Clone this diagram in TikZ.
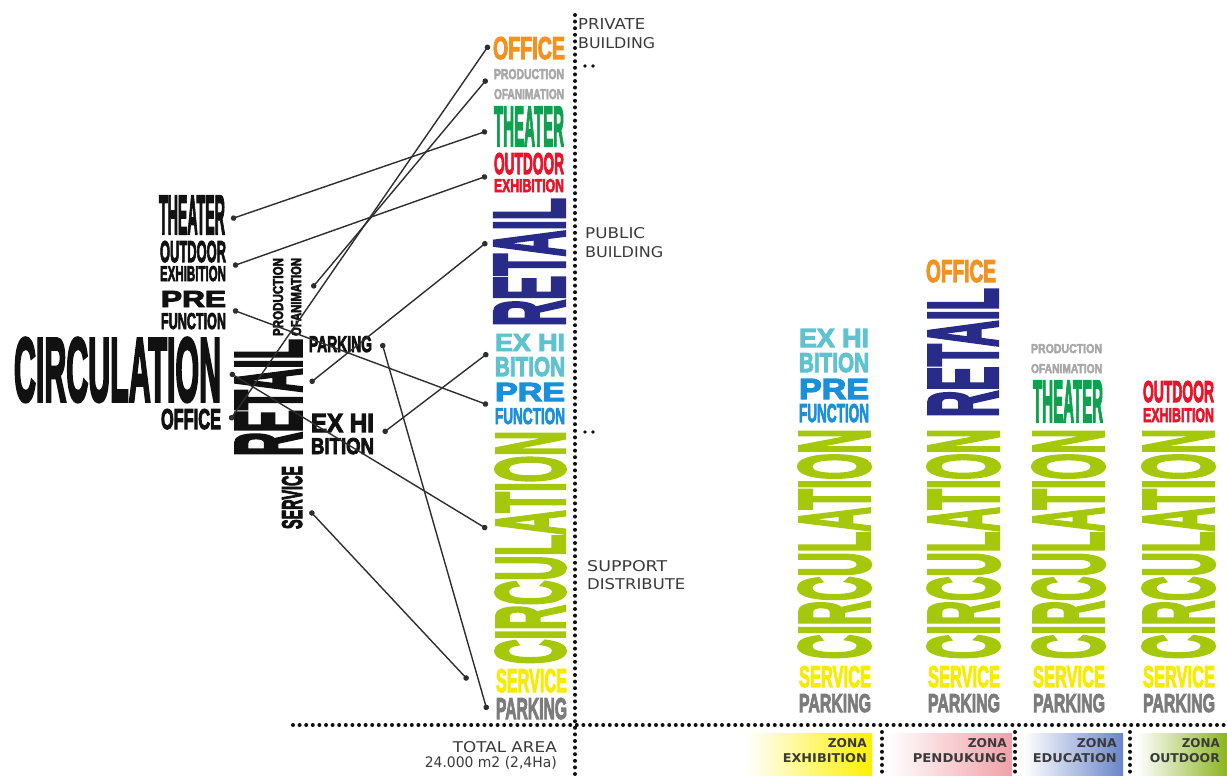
\documentclass[tikz,border=0pt]{standalone}
\usepackage{fontspec}
\setmainfont{Liberation Sans}
\newfontfamily\labfont{DejaVu Sans}
\newfontfamily\heavyfont[FakeBold=4]{Liberation Sans Bold}
\usetikzlibrary{arrows.meta}
\definecolor{cOrange}{HTML}{F39220}
\definecolor{cLgray}{HTML}{A8A8A8}
\definecolor{cGreen}{HTML}{10A050}
\definecolor{cRed}{HTML}{E8142A}
\definecolor{cNavy}{HTML}{282C88}
\definecolor{cCyan}{HTML}{5EC3CF}
\definecolor{cBlue}{HTML}{1A8FDA}
\definecolor{cLime}{HTML}{A6C80A}
\definecolor{cYellow}{HTML}{F7EC00}
\definecolor{cDgray}{HTML}{7C7C7C}
\definecolor{cBlack}{HTML}{111111}
\definecolor{cLab}{HTML}{3A3A3A}
\definecolor{cLine}{HTML}{2E2E2E}
\definecolor{zYellow}{HTML}{FFF000}
\definecolor{zPink}{HTML}{F0A0A8}
\definecolor{zBlue}{HTML}{6A86C8}
\definecolor{zGreen}{HTML}{8CB41E}
\newcommand{\hword}[3]{\resizebox{#1pt}{#2pt}{\heavyfont #3}}
\newcommand{\vword}[3]{\rotatebox{90}{\resizebox{#2pt}{#1pt}{\heavyfont #3}}}
\newcommand{\lword}[3]{\resizebox{#1pt}{#2pt}{\labfont #3}}
\newcommand{\zword}[3]{\resizebox{#1pt}{#2pt}{\labfont\bfseries #3}}
\begin{document}
\begin{tikzpicture}[x=1pt,y=-1pt,
  word/.style={anchor=north west, inner sep=0pt, outer sep=0pt},
  rword/.style={anchor=north east, inner sep=0pt, outer sep=0pt},
  lab/.style={anchor=north west, inner sep=0pt, text=cLab},
  rlab/.style={anchor=north east, inner sep=0pt, text=cLab},
  link/.style={draw=cLine, line width=1.4pt, {Circle[length=5.5pt]}-{Circle[length=5.5pt]}},
  dotline/.style={draw=cBlack, line width=4pt, line cap=round, dash pattern=on 0pt off 6.6pt},
  minidot/.style={fill=cBlack}]
\useasboundingbox (0,0) rectangle (1227,776);

% zone boxes
\shade[left color=white, right color=zYellow] (745,733) rectangle (872,776);
\shade[left color=white, right color=zPink] (887,733) rectangle (1012,776);
\shade[left color=white, right color=zBlue] (1023,733) rectangle (1123,776);
\shade[left color=white, right color=zGreen] (1137,733) rectangle (1227,776);

% central column
\node[word,text=cOrange] (cOffice) at (493,37) {\hword{72}{22}{OFFICE}};
\node[word,text=cLgray] (cProd) at (494,69) {\hword{70}{10}{PRODUCTION}};
\node[word,text=cLgray] (cOfan) at (494,89) {\hword{70}{10}{OFANIMATION}};
\node[word,text=cGreen] (cTheater) at (494,107) {\hword{70}{39}{THEATER}};
\node[word,text=cRed] (cOutdoor) at (494,153) {\hword{70}{21}{OUTDOOR}};
\node[word,text=cRed] (cOutEx) at (494,179) {\hword{70}{13}{EXHIBITION}};
\node[word,text=cNavy] (cRetail) at (495,198) {\vword{69}{128}{RETAIL}};
\node[word,text=cCyan] (cExhi) at (495,334) {\hword{70}{17}{EX HI}};
\node[word,text=cCyan] (cBition) at (495,357) {\hword{70}{19}{BITION}};
\node[word,text=cBlue] (cPre) at (495,383) {\hword{70}{18}{PRE}};
\node[word,text=cBlue] (cFunc) at (495,408) {\hword{70}{16}{FUNCTION}};
\node[word,text=cLime] (cCirc) at (496,431) {\vword{68}{233}{CIRCULATION}};
\node[word,text=cYellow] (cService) at (496,669) {\hword{71}{23}{SERVICE}};
\node[word,text=cDgray] (cParking) at (496,698) {\hword{71}{21}{PARKING}};

% left cluster
\node[word,text=cBlack] (lTheater) at (159,196) {\hword{66}{38}{THEATER}};
\node[word,text=cBlack] (lOutdoor) at (160,241) {\hword{66}{21}{OUTDOOR}};
\node[word,text=cBlack] (lOutEx) at (160,266) {\hword{66}{15}{EXHIBITION}};
\node[word,text=cBlack] (lPre) at (161,291) {\hword{65}{16}{PRE}};
\node[word,text=cBlack] (lFunc) at (161,313) {\hword{65}{16}{FUNCTION}};
\node[word,text=cBlack] (lCirc) at (14,338) {\hword{207}{63}{CIRCULATION}};
\node[word,text=cBlack] (lOffice) at (161,409) {\hword{60}{20}{OFFICE}};
\node[word,text=cBlack] (lRetail) at (236,339) {\vword{65}{117}{RETAIL}};
\node[word,text=cBlack] (lProd) at (273,258) {\vword{10}{78}{PRODUCTION}};
\node[word,text=cBlack] (lOfan) at (291,258) {\vword{10}{78}{OFANIMATION}};
\node[word,text=cBlack] (lParking) at (309,336) {\hword{63}{16}{PARKING}};
\node[word,text=cBlack] (lExhi) at (311,414) {\hword{63}{18}{EX HI}};
\node[word,text=cBlack] (lBition) at (311,438) {\hword{63}{16}{BITION}};
\node[word,text=cBlack] (lService) at (282,466) {\vword{20}{63}{SERVICE}};

% right column 1: zona exhibition
\node[word,text=cCyan] (r1Exhi) at (799,329) {\hword{70}{18}{EX HI}};
\node[word,text=cCyan] (r1Bition) at (799,353) {\hword{70}{19}{BITION}};
\node[word,text=cBlue] (r1Pre) at (799,379) {\hword{70}{20}{PRE}};
\node[word,text=cBlue] (r1Func) at (799,404) {\hword{70}{18}{FUNCTION}};
\node[word,text=cLime] (r1Circ) at (799,429) {\vword{70}{230}{CIRCULATION}};
\node[word,text=cYellow] (r1Service) at (799,666) {\hword{72}{21}{SERVICE}};
\node[word,text=cDgray] (r1Parking) at (799,694) {\hword{72}{18}{PARKING}};

% right column 2: zona pendukung
\node[word,text=cOrange] (r2Office) at (926,260) {\hword{70}{22}{OFFICE}};
\node[word,text=cNavy] (r2Retail) at (929,288) {\vword{68}{129}{RETAIL}};
\node[word,text=cLime] (r2Circ) at (928,429) {\vword{70}{230}{CIRCULATION}};
\node[word,text=cYellow] (r2Service) at (928,666) {\hword{72}{21}{SERVICE}};
\node[word,text=cDgray] (r2Parking) at (928,694) {\hword{72}{18}{PARKING}};

% right column 3: zona education
\node[word,text=cLgray] (r3Prod) at (1031,344) {\hword{71}{9}{PRODUCTION}};
\node[word,text=cLgray] (r3Ofan) at (1031,364) {\hword{71}{9}{OFANIMATION}};
\node[word,text=cGreen] (r3Theater) at (1033,381) {\hword{70}{41}{THEATER}};
\node[word,text=cLime] (r3Circ) at (1033,429) {\vword{70}{230}{CIRCULATION}};
\node[word,text=cYellow] (r3Service) at (1033,666) {\hword{72}{21}{SERVICE}};
\node[word,text=cDgray] (r3Parking) at (1033,694) {\hword{72}{18}{PARKING}};

% right column 4: zona outdoor
\node[word,text=cRed] (r4Outdoor) at (1143,381) {\hword{71}{21}{OUTDOOR}};
\node[word,text=cRed] (r4OutEx) at (1143,408) {\hword{71}{14}{EXHIBITION}};
\node[word,text=cLime] (r4Circ) at (1143,429) {\vword{70}{230}{CIRCULATION}};
\node[word,text=cYellow] (r4Service) at (1143,666) {\hword{72}{21}{SERVICE}};
\node[word,text=cDgray] (r4Parking) at (1143,694) {\hword{72}{18}{PARKING}};

% side labels
\node[lab] (tPriv1) at (578,18) {\lword{67}{11}{PRIVATE}};
\node[lab] (tPriv2) at (578,37) {\lword{77}{11}{BUILDING}};
\node[lab] (tPub1) at (585,227) {\lword{60}{11}{PUBLIC}};
\node[lab] (tPub2) at (585,246) {\lword{78}{11}{BUILDING}};
\node[lab] (tSup1) at (587,560) {\lword{80}{11}{SUPPORT}};
\node[lab] (tSup2) at (587,578) {\lword{98}{11}{DISTRIBUTE}};
\node[rlab] (tTot1) at (557,741) {\lword{104}{11}{TOTAL AREA}};
\node[rlab] (tTot2) at (557,756) {\lword{132}{11}{24.000 m2 (2,4Ha)}};

% zone labels
\node[rlab] (z1a) at (867,738) {\zword{39}{9}{ZONA}};
\node[rlab] (z1b) at (867,753) {\zword{84}{9}{EXHIBITION}};
\node[rlab] (z2a) at (1007,738) {\zword{39}{9}{ZONA}};
\node[rlab] (z2b) at (1007,753) {\zword{94}{9}{PENDUKUNG}};
\node[rlab] (z3a) at (1117,738) {\zword{40}{9}{ZONA}};
\node[rlab] (z3b) at (1117,753) {\zword{84}{9}{EDUCATION}};
\node[rlab] (z4a) at (1220,738) {\zword{38}{9}{ZONA}};
\node[rlab] (z4b) at (1220,753) {\zword{70}{9}{OUTDOOR}};

% dotted guide lines
\draw[dotline] (575,15) -- (575,776);
\draw[dotline] (293,725) -- (1227,725);
\draw[dotline] (882,732) -- (882,776);
\draw[dotline] (1015,732) -- (1015,776);
\draw[dotline] (1130,732) -- (1130,776);
\fill[minidot] (585,66) circle (1.8);
\fill[minidot] (593,66) circle (1.8);
\fill[minidot] (585,432) circle (1.8);
\fill[minidot] (593,432) circle (1.8);

% connector end points
\coordinate (thL) at (231,219);  \coordinate (thC) at (487,131);
\coordinate (odL) at (233,266);  \coordinate (odC) at (487,176);
\coordinate (prL) at (233,310);  \coordinate (prC) at (488,405);
\coordinate (ciL) at (230,373);  \coordinate (ciC) at (487,529);
\coordinate (ofL) at (230,420);  \coordinate (ofC) at (489,45);
\coordinate (reL) at (310,383);  \coordinate (reC) at (487,242);
\coordinate (poL) at (312,288);  \coordinate (poC) at (487,79);
\coordinate (paL) at (382,343);  \coordinate (paC) at (487,710);
\coordinate (exL) at (383,433);  \coordinate (exC) at (488,353);
\coordinate (seL) at (310,511);  \coordinate (seC) at (468,680);

% connectors
\draw[link] (thL) -- (thC);
\draw[link] (odL) -- (odC);
\draw[link] (prL) -- (prC);
\draw[link] (ciL) -- (ciC);
\draw[link] (ofL) -- (ofC);
\draw[link] (reL) -- (reC);
\draw[link] (poL) -- (poC);
\draw[link] (paL) -- (paC);
\draw[link] (exL) -- (exC);
\draw[link] (seL) -- (seC);
\end{tikzpicture}
\end{document}
